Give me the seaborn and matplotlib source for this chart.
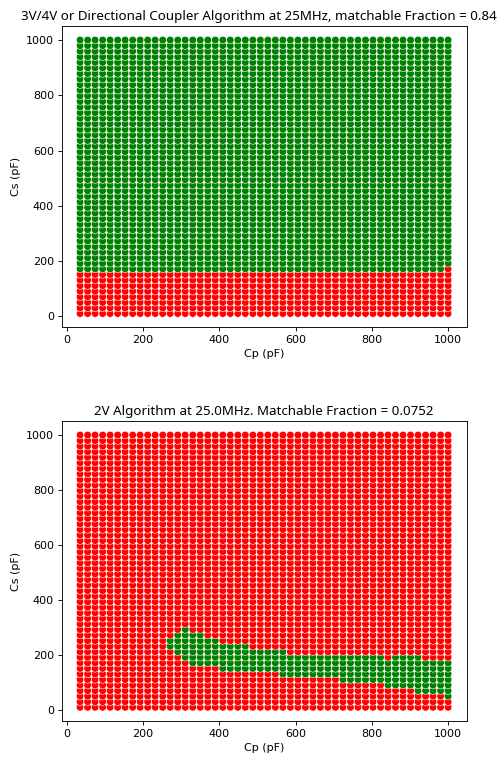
import numpy as np
import pandas as pd
import matplotlib
matplotlib.use("Agg")
import matplotlib.pyplot as plt
import seaborn as sns

# Sweep grid (pF)
cp_values = [35.0, 54.7, 74.4, 94.1, 113.8, 133.5, 153.2, 172.9, 192.6, 212.2,
             231.9, 251.6, 271.3, 291.0, 310.7, 330.4, 350.1, 369.8, 389.5, 409.2,
             428.9, 448.6, 468.3, 488.0, 507.7, 527.3, 547.0, 566.7, 586.4, 606.1,
             625.8, 645.5, 665.2, 684.9, 704.6, 724.3, 744.0, 763.7, 783.4, 803.1,
             822.8, 842.4, 862.1, 881.8, 901.5, 921.2, 940.9, 960.6, 980.3, 1000.0]
cs_values = [10.0, 30.2, 50.4, 70.6, 90.8, 111.0, 131.2, 151.4, 171.6, 191.8,
             212.0, 232.2, 252.4, 272.7, 292.9, 313.1, 333.3, 353.5, 373.7, 393.9,
             414.1, 434.3, 454.5, 474.7, 494.9, 515.1, 535.3, 555.5, 575.7, 595.9,
             616.1, 636.3, 656.5, 676.7, 696.9, 717.1, 737.3, 757.6, 777.8, 798.0,
             818.2, 838.4, 858.6, 878.8, 899.0, 919.2, 939.4, 959.6, 979.8, 1000.0]

# Top chart: Cs below this limit is unmatchable (per Cp column)
top_unmatchable_below = [160] * 49 + [180]

# Bottom chart: matchable band (Cs low / high limits) per Cp column, None = no band
band_low = [None] * 12 + [217.5, 205.5, 178.5, 156.5, 156.5, 156.5, 156.5,
            139.5, 139.5, 139.5, 139.5, 139.5, 139.5, 139.5, 139.5, 117.5,
            117.5, 117.5, 117.5, 117.5, 117.5, 117.5, 117.5, 97.5, 97.5, 97.5,
            97.5, 97.5, 97.5, 75.5, 75.5, 75.5, 75.5, 54.5, 54.5, 54.5, 54.5, 35.5]
band_high = [None] * 12 + [255.5, 276.5, 294.5, 276.5, 276.5, 255.5, 255.5,
             233.5, 233.5, 233.5, 233.5, 215.5, 215.5, 215.5, 215.5, 215.5,
             194.5, 194.5, 194.5, 194.5, 194.5, 194.5, 194.5, 194.5, 194.5, 194.5,
             194.5, 194.5, 194.5, 173.5, 194.5, 194.5, 194.5, 194.5, 173.5, 173.5,
             173.5, 173.5]

title_top = "3V/4V or Directional Coupler Algorithm at 25MHz, matchable Fraction = 0.84"
title_bottom = "2V Algorithm at 25.0MHz. Matchable Fraction = 0.0752"

rows_top, rows_bot = [], []
for i, cp in enumerate(cp_values):
    for cs in cs_values:
        rows_top.append((cp, cs, "match" if cs >= top_unmatchable_below[i] else "no"))
        lo, hi = band_low[i], band_high[i]
        ok = lo is not None and lo < cs < hi
        rows_bot.append((cp, cs, "match" if ok else "no"))
df_top = pd.DataFrame(rows_top, columns=["Cp", "Cs", "status"])
df_bot = pd.DataFrame(rows_bot, columns=["Cp", "Cs", "status"])

palette = {"match": "green", "no": "red"}

fig = plt.figure(figsize=(502 / 80, 759 / 80), dpi=80)
ax1 = fig.add_axes([0.1229, 0.5689, 0.8064, 0.3964])
ax2 = fig.add_axes([0.1229, 0.0502, 0.8064, 0.3946])

for ax, df, title, tx in [(ax1, df_top, title_top, 0.487), (ax2, df_bot, title_bottom, 0.5)]:
    sns.scatterplot(data=df, x="Cp", y="Cs", hue="status", palette=palette,
                    legend=False, ax=ax, s=46, linewidth=0.5)
    ax.set_xlabel("Cp (pF)")
    ax.set_ylabel("Cs (pF)")
    ax.set_title(title, fontsize=12, x=tx, family=["Noto Sans", "DejaVu Sans"])
    ax.set_xticks([0, 200, 400, 600, 800, 1000])
    ax.set_yticks([0, 200, 400, 600, 800, 1000])

fig.savefig("out.png", dpi=80)
